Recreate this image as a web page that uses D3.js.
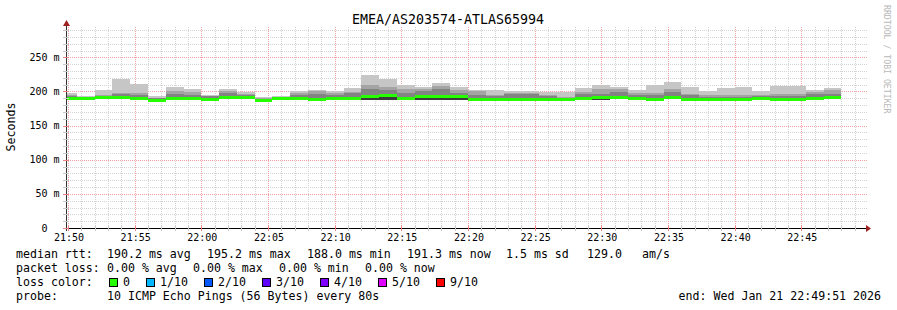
<!DOCTYPE html>
<html><head><meta charset="utf-8">
<script src="https://cdn.jsdelivr.net/npm/d3@7"></script>
<style>
html,body{margin:0;padding:0;background:#fff;}
svg{display:block;}
text{font-family:'DejaVu Sans Mono',monospace;white-space:pre;}
</style></head>
<body><svg id="c" width="897" height="310"></svg>
<script>
// ---------------- data ----------------
const chartTitle = "EMEA/AS203574-ATLAS65994";
const endTime = "2026-01-21T22:49:51Z";
const firstBinEnd = "2026-01-21T21:50:40Z";
const stepSeconds = 80;
// per-bin values in ms (44 bins, 80 s each)
const medianRtt = [189.8,189.8,191.2,192.4,190.2,188.2,191.0,190.7,189.5,191.9,
  191.2,188.0,190.4,190.4,189.3,190.4,190.7,193.9,195.2,191.0,
  193.2,193.2,193.9,189.5,189.5,188.3,188.3,189.0,188.3,191.0,
  191.4,191.4,190.4,189.0,191.4,189.5,188.6,188.8,188.8,189.9,
  188.6,188.6,189.9,191.3];
const smokeMax = [197.8,193.4,202.6,217.8,211.0,193.4,207.0,204.1,194.4,204.1,
  199.2,192.4,193.9,200.2,202.6,200.2,205.1,224.2,218.8,209.0,
  206.6,212.4,207.0,202.1,202.1,200.2,201.2,199.2,199.2,205.6,
  209.0,206.1,202.1,209.0,213.9,206.6,200.7,205.1,206.6,200.2,
  208.6,208.6,202.1,205.1];
const smokeHi2 = [195.4,192.0,195.4,198.2,198.2,191.0,200.7,199.2,193.9,201.2,
  196.3,190.5,192.0,198.2,200.7,198.2,199.7,209.0,206.6,203.1,
  204.1,208.0,201.7,201.2,194.4,198.2,198.2,194.4,191.9,199.7,
  204.1,203.1,198.2,197.3,203.1,196.8,194.4,194.4,194.4,194.4,
  196.3,196.3,199.2,201.7];
const smokeHi3 = [193.4,191.0,193.4,196.3,194.5,190.0,196.8,195.4,193.4,198.2,
  195.4,189.5,191.2,195.4,196.3,195.4,197.3,203.1,201.7,198.2,
  200.2,203.1,198.2,194.4,193.4,196.3,196.3,193.4,191.0,196.3,
  196.3,199.2,194.4,195.4,199.2,194.4,192.4,192.4,192.4,193.4,
  193.4,193.4,196.3,196.3];
const smokeMin = [188.6,188.6,189.8,188.5,188.9,187.0,189.6,189.3,188.2,188.5,
  189.8,186.8,189.1,189.1,188.0,189.1,189.4,187.5,187.5,188.5,
  187.5,187.6,187.6,188.2,188.2,187.0,187.0,187.7,187.0,189.7,
  187.6,190.1,189.1,187.7,190.1,188.2,187.3,187.5,187.5,188.6,
  187.3,187.3,187.8,190.0];
const lossCount = [0,0,0,0,0,0,0,0,0,0,0,0,0,0,0,0,0,0,0,0,0,0,
  0,0,0,0,0,0,0,0,0,0,0,0,0,0,0,0,0,0,0,0,0,0];
const yTickValues = [0,50,100,150,200,250];
const yTickLabels = ["0  ","50 m","100 m","150 m","200 m","250 m"];
const lossLegendLabels = ["0","1/10","2/10","3/10","4/10","5/10","9/10"];
const lossLegendColors = ["#26ff00","#00b8ff","#0059ff","#5e00ff","#7e00ff","#dd00ff","#ff0000"];
const legendRtt = [["median rtt:",16],["190.2 ms avg",107],["195.2 ms max",207],["188.0 ms min",307],["191.3 ms now",407],["1.5 ms sd",506],["129.0",587],["am/s",642]];
const legendLoss = [["packet loss:",16],["0.00 % avg",107],["0.00 % max",193],["0.00 % min",279],["0.00 % now",365]];
const probeText = "10 ICMP Echo Pings (56 Bytes) every 80s";
const endText = "end: Wed Jan 21 22:49:51 2026";

// ---------------- chart ----------------
const svg = d3.select("#c");
const end = new Date(endTime);
const start = new Date(end.getTime() - 3600*1000);
const x = d3.scaleUtc().domain([start, end]).range([66, 866]);
const y = d3.scaleLinear().domain([0, 293]).range([228, 28]);

svg.append("defs").append("clipPath").attr("id","plot")
  .append("rect").attr("x",66).attr("y",28).attr("width",800).attr("height",200);

// grid
const minorT = d3.utcMinute.every(1).range(start, end);
const majorT = d3.utcMinute.every(5).range(start, end);
const g = svg.append("g");
const minorY = d3.range(0, 291, 10);
g.selectAll(".hm").data(minorY.filter(v=>v%50!==0)).join("line")
  .attr("x1",66).attr("x2",868).attr("y1",d=>Math.round(y(d))+0.5).attr("y2",d=>Math.round(y(d))+0.5)
  .attr("stroke","#d4d4d4").attr("stroke-dasharray","1,1");
g.selectAll(".vm").data(minorT.filter(t=>t.getUTCMinutes()%5!==0)).join("line")
  .attr("y1",228).attr("y2",27).attr("x1",d=>Math.round(x(d))+0.5).attr("x2",d=>Math.round(x(d))+0.5)
  .attr("stroke","#d4d4d4").attr("stroke-dasharray","1,1");
g.selectAll(".hM").data(yTickValues.filter(v=>v>0)).join("line")
  .attr("x1",66).attr("x2",868).attr("y1",d=>Math.round(y(d))+0.5).attr("y2",d=>Math.round(y(d))+0.5)
  .attr("stroke","#f0a0a0").attr("stroke-dasharray","1,1");
g.selectAll(".vM").data(majorT).join("line")
  .attr("y1",228).attr("y2",27).attr("x1",d=>Math.round(x(d))+0.5).attr("x2",d=>Math.round(x(d))+0.5)
  .attr("stroke","#f0a0a0").attr("stroke-dasharray","1,1");

// bins
const fbe = new Date(firstBinEnd).getTime();
const bins = medianRtt.map((m,i)=>{
  const e = new Date(fbe + i*stepSeconds*1000);
  const s = new Date(e.getTime() - stepSeconds*1000);
  return {s, e, m, max:smokeMax[i], hi2:smokeHi2[i], hi3:smokeHi3[i], min:smokeMin[i], loss:lossCount[i]};
});
const plot = svg.append("g").attr("clip-path","url(#plot)").attr("shape-rendering","crispEdges");
const layers = [["max","#c6c6c6"],["hi2","#a4a4a4"],["hi3","#838383"],["m","#3c3c3c"]];
layers.forEach(([k,col])=>{
  plot.append("g").selectAll("rect").data(bins).join("rect")
    .attr("x",d=>Math.round(x(d.s))).attr("width",d=>Math.round(x(d.e))-Math.round(x(d.s)))
    .attr("y",d=>Math.round(y(d[k]))).attr("height",d=>Math.max(0,Math.round(y(d.min))-Math.round(y(d[k]))))
    .attr("fill",col);
});
plot.append("g").selectAll("rect").data(bins).join("rect")
  .attr("x",d=>Math.round(x(d.s))).attr("width",d=>Math.round(x(d.e))-Math.round(x(d.s)))
  .attr("y",d=>Math.round(y(d.m))-1).attr("height",3)
  .attr("fill",d=>lossLegendColors[Math.min(d.loss,6)]);

// axes
svg.append("line").attr("x1",63).attr("x2",868).attr("y1",228.5).attr("y2",228.5).attr("stroke","#000");
svg.append("line").attr("x1",66.5).attr("x2",66.5).attr("y1",231).attr("y2",25).attr("stroke","#333");
svg.append("path").attr("d","M866,225 L871,228.5 L866,232 Z").attr("fill","#a02020");
svg.append("path").attr("d","M63,26 L66.5,20 L70,26 Z").attr("fill","#a02020");
// axis ticks
svg.selectAll(".xt").data(minorT).join("line")
  .attr("x1",d=>Math.round(x(d))+0.5).attr("x2",d=>Math.round(x(d))+0.5)
  .attr("y1",226).attr("y2",231)
  .attr("stroke",d=>d.getUTCMinutes()%5===0?"#f08080":"#c8c8c8");
svg.selectAll(".yt").data(minorY).join("line")
  .attr("x1",63).attr("x2",69).attr("y1",d=>Math.round(y(d))+0.5).attr("y2",d=>Math.round(y(d))+0.5)
  .attr("stroke",d=>d%50===0?"#f08080":"#c8c8c8");

// tick labels
const fmt = d3.utcFormat("%H:%M");
svg.selectAll(".xl").data(majorT).join("text")
  .attr("x",d=>x(d)+1).attr("y",241).attr("text-anchor","middle")
  .attr("font-size","10px").attr("fill","#000").text(d=>fmt(d));
svg.selectAll(".yl").data(yTickValues).join("text")
  .attr("x",59.5).attr("y",d=>y(d)+3.5).attr("text-anchor","end")
  .attr("font-size","10px").attr("fill","#000").text((d,i)=>yTickLabels[i]);

// title & labels
svg.append("text").attr("x",448).attr("y",24).attr("text-anchor","middle")
  .attr("font-size","13.3px").attr("fill","#000").text(chartTitle);
svg.append("text").attr("transform","translate(15,127) rotate(-90)").attr("text-anchor","middle")
  .attr("font-size","11.6px").attr("fill","#000").text("Seconds");
svg.append("text").attr("transform","translate(884,5) rotate(90)").attr("text-anchor","start")
  .attr("font-size","8.2px").attr("fill","#b8b8b8").text("RRDTOOL / TOBI OETIKER");

// legend
const lf = "11.6px";
legendRtt.forEach(([t,px])=>svg.append("text").attr("x",px).attr("y",258).attr("font-size",lf).text(t));
legendLoss.forEach(([t,px])=>svg.append("text").attr("x",px).attr("y",272).attr("font-size",lf).text(t));
svg.append("text").attr("x",16).attr("y",286).attr("font-size",lf).text("loss color:");
const boxX = [109,146,204,262,320,378,436];
lossLegendLabels.forEach((t,i)=>{
  svg.append("rect").attr("x",boxX[i]+0.5).attr("y",278.5).attr("width",8).attr("height",8)
    .attr("fill",lossLegendColors[i]).attr("stroke","#000").attr("stroke-width",1);
  svg.append("text").attr("x",boxX[i]+14).attr("y",286).attr("font-size",lf).text(t);
});
svg.append("text").attr("x",16).attr("y",300).attr("font-size",lf).text("probe:");
svg.append("text").attr("x",107).attr("y",300).attr("font-size",lf).text(probeText);
svg.append("text").attr("x",881).attr("y",300).attr("text-anchor","end").attr("font-size",lf).text(endText);
</script></body></html>
